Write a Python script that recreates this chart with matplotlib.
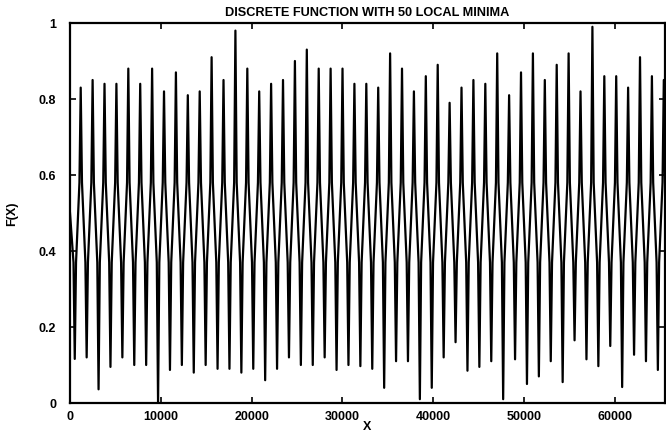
import matplotlib
matplotlib.use("Agg")
import matplotlib.pyplot as plt

# x range of the discrete function
x_max = 65536
n_cycles = 50

# peak heights, left to right
peaks = [0.83, 0.85, 0.84, 0.84, 0.88, 0.84, 0.88, 0.82, 0.87, 0.81,
         0.82, 0.91, 0.85, 0.98, 0.88, 0.82, 0.84, 0.85, 0.90, 0.93,
         0.88, 0.88, 0.88, 0.84, 0.84, 0.83, 0.92, 0.88, 0.82, 0.86,
         0.89, 0.79, 0.83, 0.85, 0.84, 0.92, 0.81, 0.87, 0.92, 0.85,
         0.89, 0.92, 0.82, 0.99, 0.86, 0.86, 0.83, 0.91, 0.86, 0.85]

# local minima, left to right
minima = [0.116, 0.12, 0.036, 0.095, 0.12, 0.10, 0.10, 0.0, 0.087, 0.10,
          0.08, 0.10, 0.09, 0.09, 0.08, 0.09, 0.06, 0.09, 0.12, 0.10,
          0.10, 0.12, 0.087, 0.10, 0.097, 0.09, 0.04, 0.11, 0.11, 0.01,
          0.04, 0.12, 0.16, 0.085, 0.095, 0.11, 0.01, 0.115, 0.05, 0.07,
          0.11, 0.055, 0.165, 0.115, 0.097, 0.15, 0.042, 0.127, 0.11, 0.087]

# levels where the zigzag turns into a spike
shoulder_hi = 0.58
shoulder_lo = 0.37
start_val = 0.5

xticks = [0, 10000, 20000, 30000, 40000, 50000, 60000]
yticks = [0, 0.2, 0.4, 0.6, 0.8, 1]
ylabels = ["0", "0.2", "0.4", "0.6", "0.8", "1"]


def build_curve():
    period = x_max / n_cycles
    w = 140  # half width of a spike base
    xs = [0]
    ys = [start_val]
    for k in range(n_cycles):
        xt = period * (k + 0.4)
        xp = period * (k + 0.9)
        xs += [xt - w, xt, xt + w, xp - w, xp, xp + w]
        ys += [shoulder_lo, minima[k], shoulder_lo,
               shoulder_hi, peaks[k], shoulder_hi]
    return xs, ys


def main():
    plt.rcParams['font.family'] = ['Liberation Sans', 'DejaVu Sans']
    plt.rcParams['font.weight'] = 'bold'

    fig = plt.figure(figsize=(6.66, 4.35), dpi=100)
    ax = fig.add_axes([70 / 666, 31 / 435, 595 / 666, 380 / 435])

    xs, ys = build_curve()
    ax.plot(xs, ys, "-k", lw=1.6)

    ax.set_xlim(0, x_max)
    ax.set_ylim(0, 1)
    ax.set_xticks(xticks)
    ax.set_xticklabels([str(t) for t in xticks])
    ax.set_yticks(yticks)
    ax.set_yticklabels(ylabels)
    ax.tick_params(direction="in", top=True, right=True, length=4,
                   width=1.2, labelsize=9)
    ax.tick_params(axis="y", pad=10)
    ax.tick_params(axis="x", pad=5)
    for s in ax.spines.values():
        s.set_linewidth(1.6)

    ax.set_title("DISCRETE FUNCTION WITH 50 LOCAL MINIMA", fontsize=9.2,
                 fontweight="bold", pad=6)
    ax.set_xlabel("X", fontsize=9, fontweight="bold")
    ax.set_ylabel("F(X)", fontsize=9, fontweight="bold")
    ax.xaxis.set_label_coords(0.5, -0.045)
    ax.yaxis.set_label_coords(-0.087, 0.5)

    fig.savefig("out.png", dpi=100)


if __name__ == '__main__':
    main()
